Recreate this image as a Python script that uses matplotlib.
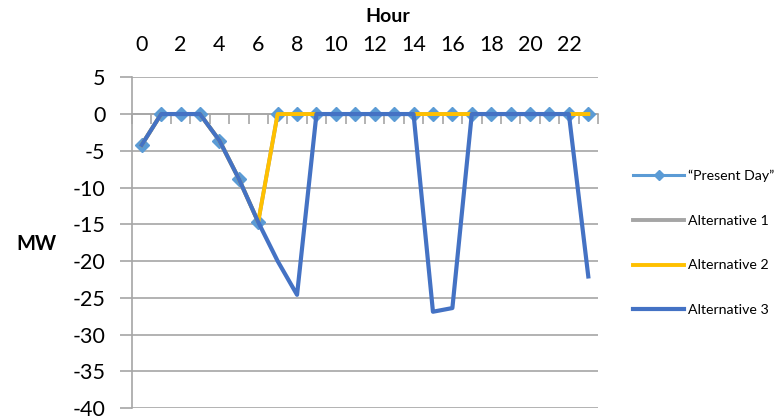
import numpy as np
import matplotlib.pyplot as plt
from matplotlib.lines import Line2D

plt.rcParams['font.family'] = ['Lato', 'DejaVu Sans']
plt.rcParams['axes.unicode_minus'] = False

# ===================== Datos =====================
hours = list(range(24))
present_day = [-4.2, 0, 0, 0, -3.6, -8.8, -14.7, 0, 0, 0, 0, 0,
               0, 0, 0, 0, 0, 0, 0, 0, 0, 0, 0, 0]
alternative_1 = [-4.2, 0, 0, 0, -3.6, -8.8, -14.7, 0, 0, 0, 0, 0,
                 0, 0, 0, 0, 0, 0, 0, 0, 0, 0, 0, 0]
alternative_2 = [-4.2, 0, 0, 0, -3.6, -8.8, -14.7, 0, 0, 0, 0, 0,
                 0, 0, 0, 0, 0, 0, 0, 0, 0, 0, 0, 0]
alternative_3 = [-4.2, 0, 0, 0, -3.6, -8.8, -14.7, -20.0, -24.6, 0, 0, 0,
                 0, 0, 0, -26.9, -26.4, 0, 0, 0, 0, 0, 0, -22.1]
series_labels = ['\u201cPresent Day\u201d', 'Alternative 1', 'Alternative 2', 'Alternative 3']
colors = ['#5B9BD5', '#A5A5A5', '#FFC000', '#4472C4']

# ===================== Figura =====================
fig = plt.figure(figsize=(7.82, 4.19), dpi=100)
ax = fig.add_axes([132/782, 1 - 408/419, (598 - 132)/782, (408 - 77.3)/419])

ax.plot(hours, present_day, color=colors[0], lw=2.2, marker='D', ms=7.5,
        mec=colors[0], mfc=colors[0], zorder=3)
ax.plot(hours, alternative_1, color=colors[1], lw=2.8, zorder=4)
ax.plot(hours, alternative_2, color=colors[2], lw=2.8, zorder=5)
ax.plot(hours, alternative_3, color=colors[3], lw=3.0, zorder=6)

ax.set_xlim(-0.5, 23.5)
ax.set_ylim(-40, 5)
ax.set_yticks(np.arange(-40, 6, 5))
ax.yaxis.grid(True, color='#A6A6A6', lw=1.2)
ax.set_axisbelow(True)

for s in ['top', 'right']:
    ax.spines[s].set_visible(False)
ax.spines['left'].set_color('#A6A6A6')
ax.spines['left'].set_linewidth(1.2)
ax.spines['bottom'].set_position(('data', 0))
ax.spines['bottom'].set_color('#A6A6A6')
ax.spines['bottom'].set_linewidth(1.2)

ax.set_xticks(range(0, 24, 2))
ax.set_xticks(np.arange(-0.5, 24, 1), minor=True)
ax.tick_params(axis='x', which='major', top=True, labeltop=True, bottom=False,
               labelbottom=False, length=0, pad=16, labelsize=15.5)
ax.tick_params(axis='x', which='minor', bottom=True, top=False, direction='out',
               length=7, width=1.2, color='#A6A6A6')
ax.tick_params(axis='y', which='major', direction='out', length=9, width=1.2,
               color='#A6A6A6', labelsize=15.5, pad=10)

fig.text(388/782, 1 - 16/419, 'Hour', ha='center', va='center',
         fontsize=14, fontweight='bold')
fig.text(36/782, 1 - 244/419, 'MW', ha='center', va='center',
         fontsize=14.5, fontweight='bold')

handles = [Line2D([], [], color=colors[0], lw=2.2, marker='D', ms=5),
           Line2D([], [], color=colors[1], lw=2.8),
           Line2D([], [], color=colors[2], lw=2.8),
           Line2D([], [], color=colors[3], lw=3.0)]
fig.legend(handles, series_labels, loc='center left',
           bbox_to_anchor=(633/782, 1 - 243/419), frameon=False, fontsize=10.2,
           handlelength=3.6, handletextpad=0.25, labelspacing=2.3, borderpad=0,
           borderaxespad=0)

fig.savefig('out.png', dpi=100)
